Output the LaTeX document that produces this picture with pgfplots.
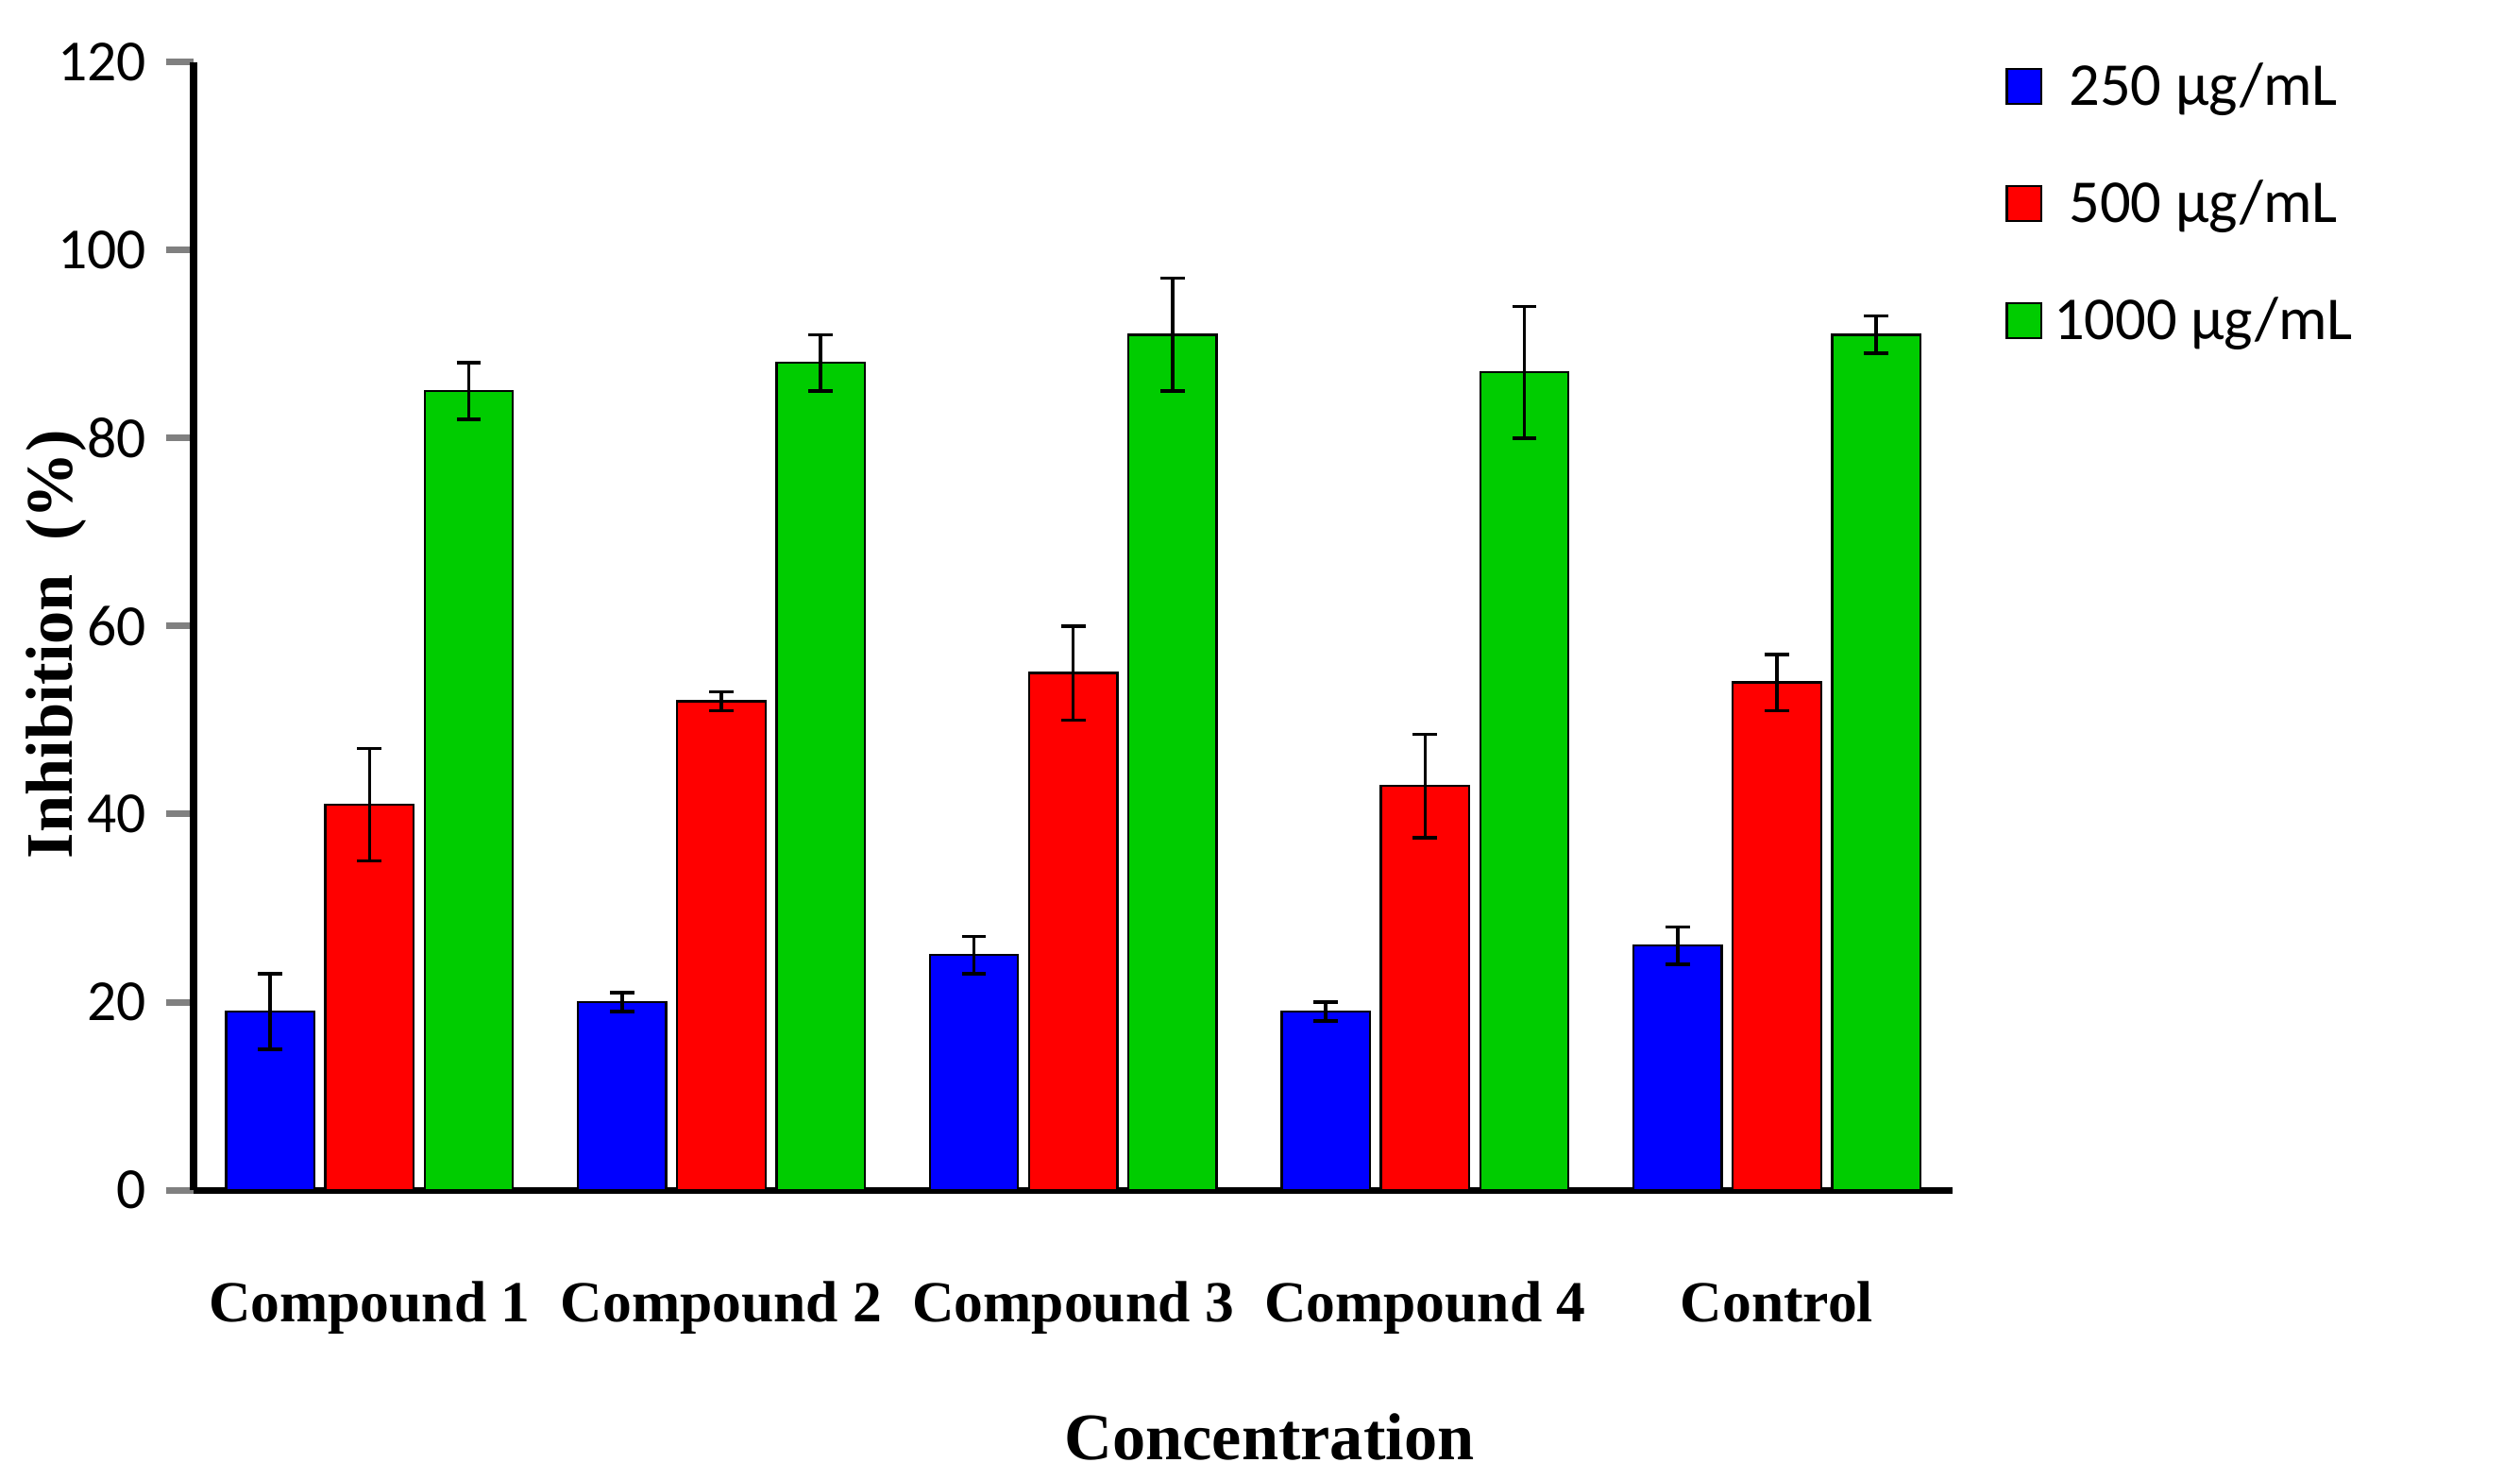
\documentclass[border=0pt]{standalone}
\usepackage{pgfplots}
\pgfplotsset{compat=1.18}
\usepackage{fontspec}
\setmainfont{Liberation Serif}
\newfontfamily\calfont{Carlito}
\definecolor{cb}{RGB}{0,0,255}
\definecolor{cr}{RGB}{255,0,0}
\definecolor{cg}{RGB}{0,204,0}
\begin{document}
\begin{tikzpicture}
\path[use as bounding box] (0,0) rectangle (16,9.39);
\begin{axis}[at={(2.346cm,1.836cm)}, anchor=origin,
  scale only axis, width=11.17cm, height=7.16cm,
  ybar=0pt, bar width=0.56cm,
  xmin=-0.5, xmax=4.5, ymin=0, ymax=120,
  ytick={0,20,...,120},
  axis lines*=left, axis line style={line width=1.2pt},
  xtick={0,...,4},
  xticklabels={Compound 1,Compound 2,Compound 3,Compound 4,Control},
  xticklabel style={font=\bfseries\fontsize{10.5}{12}\selectfont, yshift=-8pt},
  yticklabel style={font=\calfont\fontsize{10.5}{12}\selectfont},
  /pgf/number format/assume math mode=true,
  major x tick style={draw=none},
  extra x ticks={-0.5,0.5,1.5,2.5,3.5,4.5},
  extra x tick labels={},
  extra x tick style={major tick length=5pt, tick style={line width=1.2pt, draw=black}},
  tick align=outside, major tick length=5pt,
  ytick style={line width=1.2pt},
  legend style={at={(1.02,1.02)}, anchor=north west, draw=none, font=\calfont\fontsize{11}{13}\selectfont, row sep=8pt},
  legend image code/.code={\draw[#1,draw=black] (0cm,-0.1cm) rectangle (0.22cm,0.12cm);},
  error bars/error bar style={black, line width=0.6pt},
  error bars/error mark options={rotate=90, mark size=2.2pt, black, line width=0.6pt},
]
\addplot[fill=cb, draw=black, bar shift=-0.63cm, error bars/.cd, y dir=both, y explicit]
 coordinates {(0,19) +- (0,4) (1,20) +- (0,1) (2,25) +- (0,2) (3,19) +- (0,1) (4,26) +- (0,2)};
\addplot[fill=cr, draw=black, bar shift=0cm, error bars/.cd, y dir=both, y explicit]
 coordinates {(0,41) +- (0,6) (1,52) +- (0,1) (2,55) +- (0,5) (3,43) +- (0,5.5) (4,54) +- (0,3)};
\addplot[fill=cg, draw=black, bar shift=0.63cm, error bars/.cd, y dir=both, y explicit]
 coordinates {(0,85) +- (0,3) (1,88) +- (0,3) (2,91) +- (0,6) (3,87) +- (0,7) (4,91) +- (0,2)};
\legend{250 µg/mL, 500 µg/mL, 1000 µg/mL}
\end{axis}
\node[rotate=90, font=\bfseries\fontsize{12}{14}\selectfont] at (0.36,5.3) {Inhibition~~(\%)};
\node[font=\bfseries\fontsize{12}{14}\selectfont] at (8.06,0.27) {Concentration};
\end{tikzpicture}
\end{document}
